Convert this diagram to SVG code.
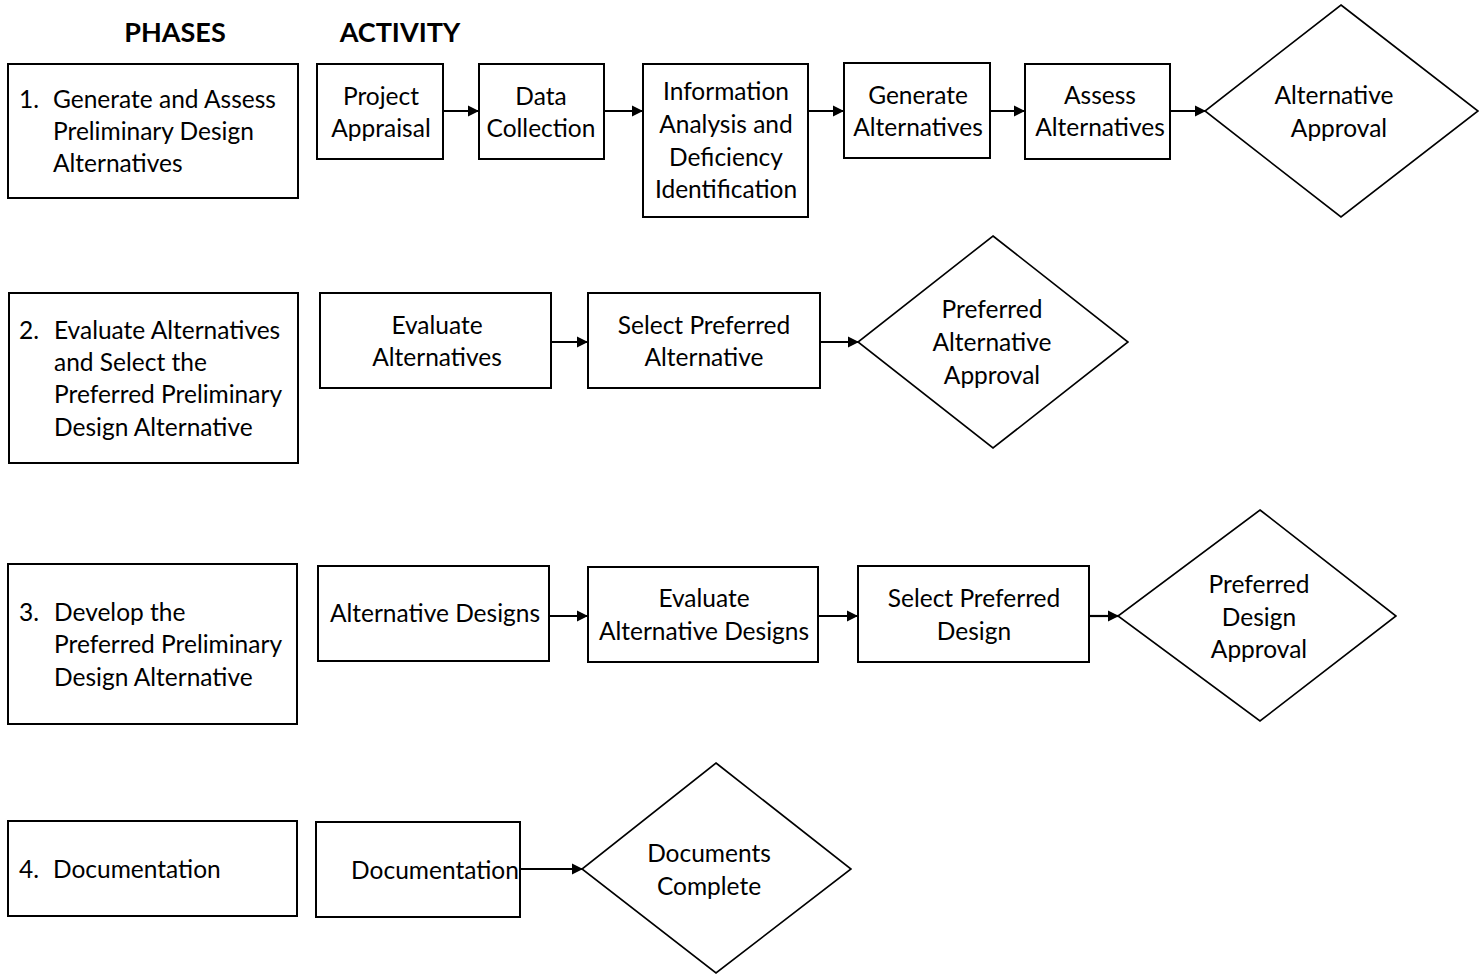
<svg xmlns="http://www.w3.org/2000/svg" width="1482" height="974" viewBox="0 0 1482 974">
<defs>
<marker id="ah" viewBox="0 0 10 10" refX="10" refY="5" markerWidth="11" markerHeight="12" markerUnits="userSpaceOnUse" orient="auto">
<path d="M0,0 L10,5 L0,10 z" fill="#000"/>
</marker>
</defs>
<style>
.box{fill:#fff;stroke:#000;stroke-width:2}
.dia{fill:#fff;stroke:#000;stroke-width:1.6}
text{font-family:Lato,"Open Sans","Liberation Sans",sans-serif;font-size:24.5px;fill:#000}
.c{text-anchor:middle}
.h{font-weight:bold;font-size:27px;text-anchor:middle}
.cn line{stroke:#000;stroke-width:2.2;marker-end:url(#ah)}
</style>
<rect width="1482" height="974" fill="#fff"/>
<g id="headers">
<text class="h" x="175" y="42">PHASES</text>
<text class="h" x="400" y="42">ACTIVITY</text>
</g>
<g id="phase1"><rect class="box" x="8" y="64" width="290" height="134"/>
<text x="19" y="108">1.</text><text x="53" y="108">Generate and Assess</text><text x="53" y="140">Preliminary Design</text><text x="53" y="172">Alternatives</text></g>
<g id="project-appraisal"><rect class="box" x="317" y="64" width="126" height="95"/>
<text class="c" x="381" y="105">Project</text><text class="c" x="381" y="137">Appraisal</text></g>
<g id="data-collection"><rect class="box" x="479" y="64" width="125" height="95"/>
<text class="c" x="541" y="105">Data</text><text class="c" x="541" y="137">Collection</text></g>
<g id="info-analysis"><rect class="box" x="643" y="64" width="165" height="153"/>
<text class="c" x="726" y="100">Information</text><text class="c" x="726" y="133">Analysis and</text><text class="c" x="726" y="166">Deficiency</text><text class="c" x="726" y="198">Identification</text></g>
<g id="generate-alternatives"><rect class="box" x="844" y="63" width="146" height="95"/>
<text class="c" x="918" y="104">Generate</text><text class="c" x="918" y="136">Alternatives</text></g>
<g id="assess-alternatives"><rect class="box" x="1025" y="64" width="145" height="95"/>
<text class="c" x="1100" y="104">Assess</text><text class="c" x="1100" y="136">Alternatives</text></g>
<g id="alternative-approval"><polygon class="dia" points="1341,5 1478,111 1341,217 1205,111"/>
<text class="c" x="1334" y="104">Alternative</text><text class="c" x="1339" y="137">Approval</text></g>

<g id="phase2"><rect class="box" x="9" y="293" width="289" height="170"/>
<text x="19" y="339">2.</text><text x="54" y="339">Evaluate Alternatives</text><text x="54" y="371">and Select the</text><text x="54" y="403">Preferred Preliminary</text><text x="54" y="436">Design Alternative</text></g>
<g id="evaluate-alternatives"><rect class="box" x="320" y="293" width="231" height="95"/>
<text class="c" x="437" y="334">Evaluate</text><text class="c" x="437" y="366">Alternatives</text></g>
<g id="select-preferred-alternative"><rect class="box" x="588" y="293" width="232" height="95"/>
<text class="c" x="704" y="334">Select Preferred</text><text class="c" x="704" y="366">Alternative</text></g>
<g id="preferred-alternative-approval"><polygon class="dia" points="993,236 1128,342 993,448 858,342"/>
<text class="c" x="992" y="318">Preferred</text><text class="c" x="992" y="351">Alternative</text><text class="c" x="992" y="384">Approval</text></g>

<g id="phase3"><rect class="box" x="8" y="564" width="289" height="160"/>
<text x="19" y="621">3.</text><text x="54" y="621">Develop the</text><text x="54" y="653">Preferred Preliminary</text><text x="54" y="686">Design Alternative</text></g>
<g id="alternative-designs"><rect class="box" x="318" y="566" width="231" height="95"/>
<text class="c" x="435" y="622">Alternative Designs</text></g>
<g id="evaluate-alternative-designs"><rect class="box" x="588" y="567" width="230" height="95"/>
<text class="c" x="704" y="607">Evaluate</text><text class="c" x="704" y="640">Alternative Designs</text></g>
<g id="select-preferred-design"><rect class="box" x="858" y="566" width="231" height="96"/>
<text class="c" x="974" y="607">Select Preferred</text><text class="c" x="974" y="640">Design</text></g>
<g id="preferred-design-approval"><polygon class="dia" points="1260,510 1396,616 1260,721 1118,616"/>
<text class="c" x="1259" y="593">Preferred</text><text class="c" x="1259" y="626">Design</text><text class="c" x="1259" y="658">Approval</text></g>

<g id="phase4"><rect class="box" x="8" y="821" width="289" height="95"/>
<text x="19" y="878">4.</text><text x="53" y="878">Documentation</text></g>
<g id="documentation"><rect class="box" x="316" y="822" width="204" height="95"/>
<text class="c" x="435" y="879">Documentation</text></g>
<g id="documents-complete"><polygon class="dia" points="716,763 851,869 716,973 582,869"/>
<text class="c" x="709" y="862">Documents</text><text class="c" x="709" y="895">Complete</text></g>

<g id="connectors" class="cn">
<line x1="443" y1="111" x2="479" y2="111"/>
<line x1="604" y1="111" x2="643" y2="111"/>
<line x1="808" y1="111" x2="844" y2="111"/>
<line x1="990" y1="111" x2="1025" y2="111"/>
<line x1="1170" y1="111" x2="1206" y2="111"/>
<line x1="551" y1="342" x2="588" y2="342"/>
<line x1="820" y1="342" x2="859" y2="342"/>
<line x1="549" y1="616" x2="588" y2="616"/>
<line x1="818" y1="616" x2="858" y2="616"/>
<line x1="1089" y1="616" x2="1119" y2="616"/>
<line x1="520" y1="869" x2="583" y2="869"/>
</g>
</svg>
